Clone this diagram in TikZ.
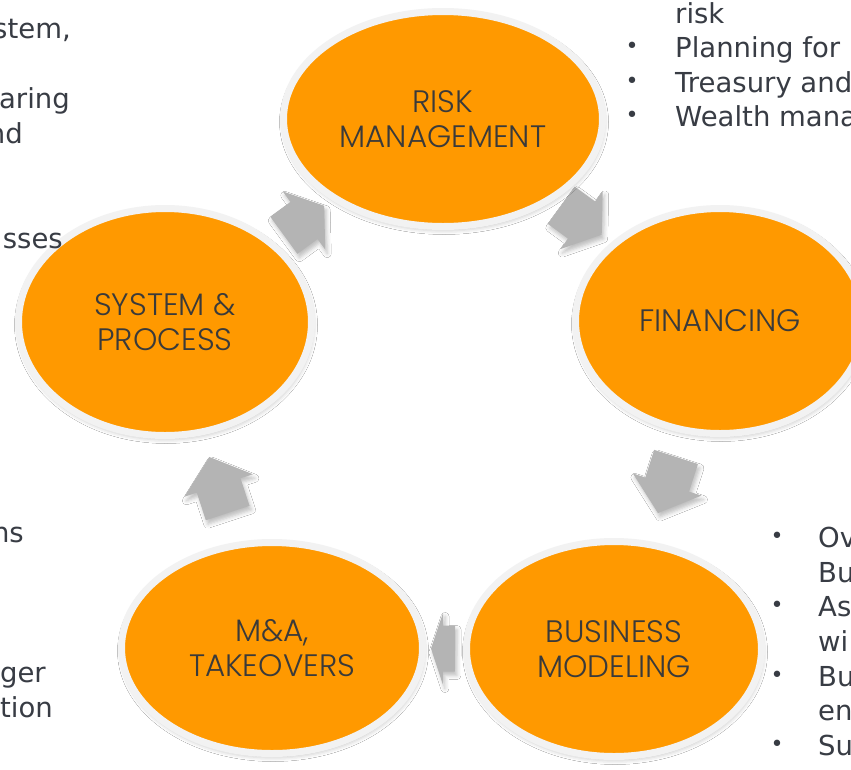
\documentclass[tikz,border=0pt]{standalone}
\usepackage{fontspec}
\setmainfont{DejaVu Sans}
\newfontfamily\lblfont{Poppins Light}
\usetikzlibrary{shapes.geometric,calc,shadows.blur}
\definecolor{orng}{HTML}{FF9900}
\definecolor{ringc}{HTML}{F2F2F2}
\definecolor{arrg}{HTML}{B4B4B4}
\definecolor{lbl}{HTML}{3A3A3A}
\definecolor{txt}{HTML}{383C44}
\pgfdeclarelayer{bg}
\pgfsetlayers{bg,main}
\tikzset{
  ell/.style={ellipse, fill=orng, draw=ringc, line width=7pt, inner sep=0pt,
    text=lbl, align=center, font=\lblfont\fontsize{31}{35}\selectfont,
    blur shadow={shadow xshift=1pt, shadow yshift=-3pt, shadow blur radius=5pt, shadow opacity=30}},
  arrowfill/.style={fill=arrg,
    blur shadow={shadow xshift=2pt, shadow yshift=-4pt, shadow blur radius=4pt, shadow opacity=25}},
  side/.style={inner sep=0pt, text=txt, font=\fontsize{27.5}{34.5}\selectfont},
  bul/.style={inner sep=0pt, text=txt, font=\fontsize{22}{24}\selectfont}
}
% #1 from node, #2 to node, #3 half length, #4 head length
\newcommand\cycarrow[4]{%
  \path[arrowfill] let \p1=($(#2.center)-(#1.center)$), \n1={atan2(\y1,\x1)} in
    [shift={($(#1.center)!0.5!(#2.center)$)}, rotate=\n1]
    (-#3,-23) -- (#3-#4,-23) -- (#3-#4,-36) -- (#3,0) -- (#3-#4,36) -- (#3-#4,23) -- (-#3,23) -- cycle;}
\begin{document}
\begin{tikzpicture}[x=1pt,y=-1pt]
\useasboundingbox (0,0) rectangle (851,769);
\clip (0,0) rectangle (851,769);

% ellipses
\node[ell, minimum width=319pt, minimum height=215pt] (risk) at (443,119) {RISK\\MANAGEMENT};
\node[ell, minimum width=289pt, minimum height=225pt] (fin) at (720,321) {FINANCING};
\node[ell, minimum width=295pt, minimum height=215pt] (bus) at (614,649) {BUSINESS\\MODELING};
\node[ell, minimum width=301pt, minimum height=211pt] (mna) at (272,648) {M\&A,\\TAKEOVERS};
\node[ell, minimum width=293pt, minimum height=227pt] (sys) at (165,322) {SYSTEM \&\\PROCESS};

% cycle arrows (behind the ellipses)
\begin{pgfonlayer}{bg}
\fill[white] (0,0) rectangle (851,769);
\cycarrow{sys}{risk}{25}{25}
\cycarrow{risk}{fin}{25}{25}
\cycarrow{fin}{bus}{29.5}{30}
\cycarrow{bus}{mna}{12}{12}
\cycarrow{mna}{sys}{29.5}{30}
\end{pgfonlayer}

% left text fragments
\node[side, anchor=base east] (l1) at (71,38) {stem,};
\node[side, anchor=base east] (l2) at (70,108) {aring};
\node[side, anchor=base east] (l3) at (23,143) {nd};
\node[side, anchor=base east] (l4) at (63,248) {sses};
\node[side, anchor=base east] (l5) at (24,542) {ns};
\node[side, anchor=base east] (l6) at (46,682) {ger};
\node[side, anchor=base east] (l7) at (53,717) {tion};

% right top text
\node[side, anchor=base west] (r1) at (675,23) {risk};
\node[side, anchor=base west] (r2) at (675,57) {Planning for};
\node[side, anchor=base west] (r3) at (675,92) {Treasury and};
\node[side, anchor=base west] (r4) at (675,126) {Wealth mana};
\node[bul] (rb2) at (632,48) {•};
\node[bul] (rb3) at (632,83) {•};
\node[bul] (rb4) at (632,117) {•};

% right bottom text
\node[side, anchor=base west] (s1) at (818,547) {Ov};
\node[side, anchor=base west] (s2) at (818,582) {Bu};
\node[side, anchor=base west] (s3) at (818,616) {As};
\node[side, anchor=base west] (s4) at (818,651) {wi};
\node[side, anchor=base west] (s5) at (818,686) {Bu};
\node[side, anchor=base west] (s6) at (818,720) {en};
\node[side, anchor=base west] (s7) at (818,755) {Su};
\node[bul] (sb1) at (777,538) {•};
\node[bul] (sb3) at (777,607) {•};
\node[bul] (sb5) at (777,677) {•};
\node[bul] (sb7) at (777,746) {•};
\end{tikzpicture}
\end{document}
